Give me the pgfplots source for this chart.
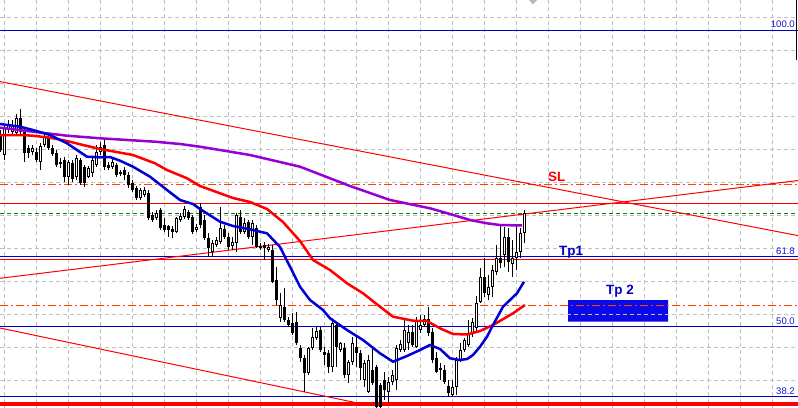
\documentclass[border=0pt]{standalone}
\usepackage{pgfplots}
\pgfplotsset{compat=1.18}
\usepackage{pgfplotstable}
\usepackage{fontspec}
\setmainfont{Liberation Sans}

\definecolor{gridgray}{RGB}{192,192,192}
\definecolor{fibblue}{RGB}{0,0,200}
\definecolor{fibtext}{RGB}{20,20,215}
\definecolor{mablue}{RGB}{0,0,215}
\definecolor{mapurple}{RGB}{150,0,210}
\definecolor{lvlorange}{RGB}{255,69,0}
\definecolor{lvlgreen}{RGB}{0,128,0}
\definecolor{boxblue}{RGB}{10,10,230}
\definecolor{tpblue}{RGB}{0,0,190}

% candles in screen units (y grows downwards = lower price)
% x, wick top, wick bottom, body top, body bottom
\pgfplotstableread{
x wt wb bt bb
0 130 152 135 150
20 109 134 118 132
24 128 162 132 153
28 145 158 148 153
36 148 162 152 160
48 133 150 138 148
52 145 156 148 154
56 150 167 153 165
60 158 168 162 163.5
64 157 182 160 177
72 160 182 163 179
80 158 185 160 183
84 165 187 167 183
104 140 170 145 167
108 162 170 165 168
116 163 177 165 175
120 170 176 172 174
124 167 180 170 175
128 172 188 175 185
132 180 192 183 190
136 186 200 188 198
148 190 220 193 218
152 212 222 215 220
160 208 230 210 228
164 218 232 225 230
168 225 237 226 230
172 226 238 229 232
188 210 220 212 218
192 215 234 217 232
200 203 228 207 225
204 215 240 220 238
208 233 257 238 248
224 225 239 229 237
228 233 250 237 247
240 210 234 217 232
248 220 239 222 237
256 225 248 228 247
260 243 250 246 248
264 242 260 245 248
272 245 283 250 282
276 267 305 280 300
284 288 322 307 320
288 317 327 320 325
292 313 335 323 333
296 312 345 322 343
300 345 362 348 358
304 355 392 358 373
320 327 352 330 350
324 347 365 352 355
328 350 373 353 367
336 323 367 325 347
344 343 378 348 375
356 335 367 347 353
360 350 380 353 368
372 347 385 370 383
376 365 408 367 407
380 383 408 385 407
384 372 400 380 390
412 325 347 332 345
428 307 336 319 333
432 328 363 332 360
436 352 373 358 372
440 363 380 368 370
444 365 384 370 382
448 380 397 386 393
484 258 297 277 293
500 226 268 258 263
508 228 272 237 262
}\blk

\pgfplotstableread{
x wt wb bt bb
4 125 160 128 155
8 120 133 124 130
12 120 134 125 132
16 114 135 118 133
32 145 155 148 152
40 143 170 146 162
44 133 147 137 145
68 160 185 162 177
76 155 180 158 177
88 166 178 168 177
92 157 177 160 173
96 145 167 152 165
100 142 155 147 152
112 158 169 162 167
140 188 200 190 198
144 187 197 190 195
156 210 220 213 218
176 217 233 218 232
180 213 222 216 220
184 206 219 209 217
196 224 232 227 230
212 240 257 243 252
216 237 247 240 245
220 207 244 228 242
232 237 250 242 246
236 213 252 215 243
244 218 234 223 232
252 220 245 223 237
268 244 252 247 250
280 293 322 305 318
308 347 375 348 373
312 328 350 337 348
316 327 340 331 338
332 318 372 323 367
340 342 352 343 350
348 360 383 362 375
352 337 365 343 362
364 360 387 363 380
368 355 393 360 392
388 377 403 382 392
392 370 385 375 382
396 345 390 348 380
400 340 352 344 350
404 318 352 330 350
408 325 350 332 343
416 317 348 320 347
420 315 333 325 330
424 315 327 319 325
452 380 397 387 395
456 357 395 360 387
460 343 362 350 360
464 338 352 340 350
468 320 347 333 345
472 318 337 322 333
476 296 332 303 328
480 268 303 277 302
488 275 300 287 295
492 265 297 270 287
496 245 275 258 272
504 227 267 237 255
512 240 277 258 264
516 225 270 252 258
520 228 258 233 252
524 210 243 213 233
}\wht

\begin{document}
\begin{tikzpicture}
\begin{axis}[
  scale only axis, width=798bp, height=408bp,
  xmin=0, xmax=798, ymin=0, ymax=408, y dir=reverse,
  axis lines=none, clip=true,
  axis background/.style={fill=white},
  gridline/.style={gridgray, line width=1bp, dash pattern=on 4bp off 3bp},
  wick/.style={black, line width=1bp, mark=none},
  level/.style={line width=1bp, mark=none},
]
% vertical grid
\addplot[ycomb, gridline, mark=none] coordinates {
(4.5,408) (36.5,408) (68.5,408) (100.5,408) (132.5,408) (164.5,408) (196.5,408) (228.5,408)
(260.5,408) (292.5,408) (324.5,408) (356.5,408) (388.5,408) (420.5,408) (452.5,408) (484.5,408)
(516.5,408) (548.5,408) (580.5,408) (612.5,408) (644.5,408) (676.5,408) (708.5,408) (740.5,408) (772.5,408)};
% Tp 2 box
\addplot[fill=boxblue, draw=none, mark=none] coordinates {(568,300) (668,300) (668,321.7) (568,321.7) (568,300)};
% horizontal grid
\addplot[xcomb, gridline, mark=none] coordinates {
(798,17.5) (798,50.5) (798,83.5) (798,116.5) (798,149.5) (798,182.5)
(798,215.5) (798,248.5) (798,281.5) (798,314.5) (798,347.5) (798,380.5)};
% fibonacci levels
\addplot[fibblue, level] coordinates {(0,30.5) (798,30.5)};
\addplot[fibblue, level] coordinates {(0,256.5) (798,256.5)};
\addplot[fibblue, level] coordinates {(0,326.5) (798,326.5)};
\addplot[fibblue, level] coordinates {(0,396.5) (798,396.5)};
% other levels
\addplot[lvlorange, level, dash pattern=on 8bp off 3bp on 2bp off 3bp] coordinates {(0,184.5) (798,184.5)};
\addplot[lvlorange, level, dash pattern=on 8bp off 3bp on 2bp off 3bp] coordinates {(0,305.5) (798,305.5)};
\addplot[red, level] coordinates {(0,203.5) (798,203.5)};
\addplot[red, level] coordinates {(0,259.5) (798,259.5)};
\addplot[lvlgreen, level, dash pattern=on 4bp off 3bp] coordinates {(0,213.5) (798,213.5)};
\addplot[red, line width=3.3bp, mark=none] coordinates {(0,404) (798,404)};
% trend lines
\addplot[red, level] coordinates {(0,81.6) (798,235.6)};
\addplot[red, level] coordinates {(0,278.3) (798,180.5)};
\addplot[red, level] coordinates {(0,328) (365,404.6)};
% candles
\addplot[wick, quiver={u=0, v=\thisrow{wb}-\thisrow{wt}}] table[x expr=\thisrow{x}+0.5, y=wt] {\blk};
\addplot[wick, quiver={u=0, v=\thisrow{wb}-\thisrow{wt}}] table[x expr=\thisrow{x}+0.5, y=wt] {\wht};
\addplot[black, line width=3.2bp, mark=none, quiver={u=0, v=\thisrow{bb}-\thisrow{bt}}] table[x expr=\thisrow{x}+0.5, y=bt] {\blk};
\addplot[black, line width=3.2bp, mark=none, quiver={u=0, v=\thisrow{bb}-\thisrow{bt}}] table[x expr=\thisrow{x}+0.5, y=bt] {\wht};
\addplot[white, line width=1.2bp, mark=none, quiver={u=0, v=\thisrow{bb}-\thisrow{bt}-2}] table[x expr=\thisrow{x}+0.5, y expr=\thisrow{bt}+1] {\wht};
% moving averages
\addplot[mapurple, line width=2.5bp, mark=none] coordinates {
(0,127.7) (33,131.7) (67,135.7) (100,138.3) (155,141.7) (180,144) (200,146.7)
(250,155) (300,166.7) (350,186) (390,200) (430,208.3) (450,214) (470,220)
(487,223.3) (500,225) (522,225.5)};
\addplot[red, line width=2.5bp, mark=none] coordinates {
(0,135) (20,135) (33,135.7) (50,137.7) (67,141) (83,145) (100,149) (133,155)
(155,163.3) (167,170) (187,178.3) (200,186) (233,198) (250,202) (267,209)
(283,222) (300,241) (313,260) (330,270) (347,283.3) (363,293.3) (380,306.7)
(393,316.7) (413,320.7) (427,321) (440,328.3) (453,334) (467,334.5) (480,331)
(493,325) (513,313.3) (525,305)};
\addplot[mablue, line width=2.5bp, mark=none] coordinates {
(0,124) (20,126.7) (33,130) (50,135) (67,143.3) (77,150) (87,156.7) (100,157.3)
(110,157) (120,160.7) (133,166.7) (150,176.7) (167,190) (180,200) (193,204)
(200,209) (220,221.7) (233,226) (250,229.3) (267,233.3) (280,247) (290,266.7)
(300,286.7) (310,300) (323,310) (330,318.3) (347,330) (363,340) (380,353.3)
(393,361.7) (407,356) (420,350) (430,345) (440,349) (450,358.3) (460,360)
(467,359) (473,355) (480,346.7) (487,336.7) (493,325) (503,306.7) (517,293.3)
(524,281.7)};
% gray marker at the top
\addplot[fill=gray!55, draw=none, mark=none] coordinates {(529,0) (537,0) (533,4.5) (529,0)};
% right frame
\addplot[black, line width=1bp, mark=none] coordinates {(796.5,0) (796.5,60)};
% labels
\node[anchor=base east, text=fibtext, font=\fontsize{9.6}{10}\selectfont, inner sep=0pt] at (axis cs:795,27.5) {100.0};
\node[anchor=base east, text=fibtext, font=\fontsize{9.6}{10}\selectfont, inner sep=0pt] at (axis cs:795,254) {61.8};
\node[anchor=base east, text=fibtext, font=\fontsize{9.6}{10}\selectfont, inner sep=0pt] at (axis cs:795,324) {50.0};
\node[anchor=base east, text=fibtext, font=\fontsize{9.6}{10}\selectfont, inner sep=0pt] at (axis cs:795,394) {38.2};
\node[anchor=base west, text=red, font=\fontsize{13.5}{14}\selectfont\bfseries, inner sep=0pt] at (axis cs:548,181) {SL};
\node[anchor=base west, text=tpblue, font=\fontsize{13.5}{14}\selectfont\bfseries, inner sep=0pt] at (axis cs:559,255.7) {Tp1};
\node[anchor=base west, text=tpblue, font=\fontsize{13.5}{14}\selectfont\bfseries, inner sep=0pt] at (axis cs:606,294) {Tp 2};
\end{axis}
\end{tikzpicture}
\end{document}
